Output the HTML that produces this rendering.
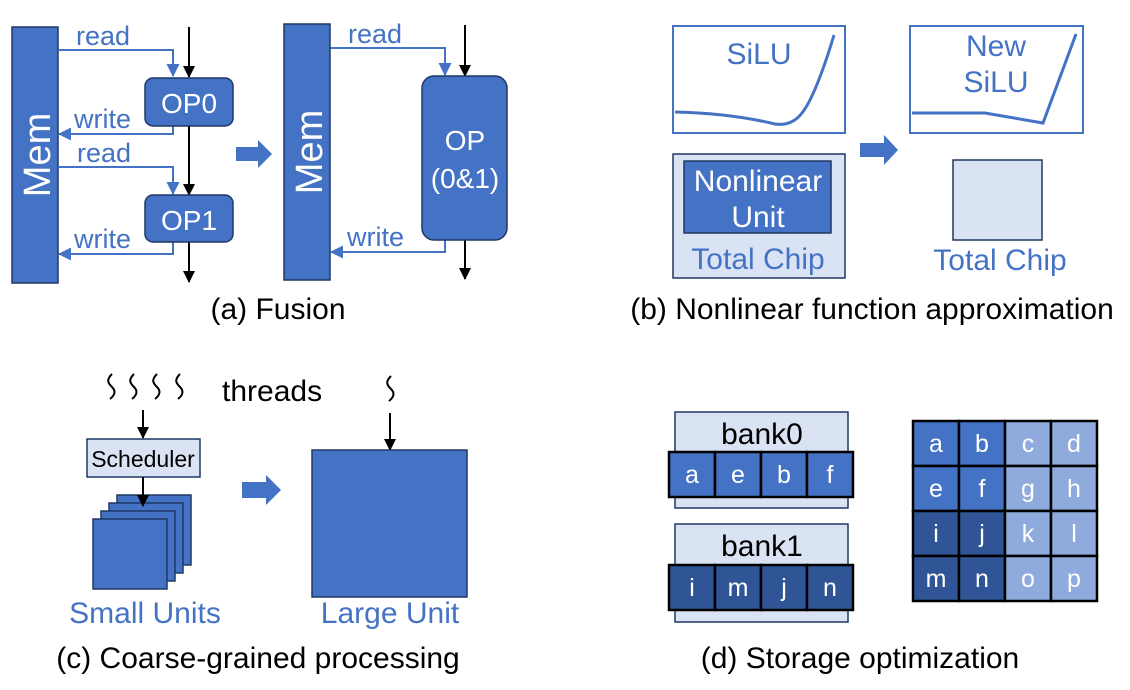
<!DOCTYPE html>
<html><head><style>body{margin:0;background:#fff}svg{display:block}text{font-family:"Liberation Sans",Arial,sans-serif}</style></head><body>
<svg width="1130" height="690" viewBox="0 0 1130 690" xmlns="http://www.w3.org/2000/svg">
<defs>
<marker id="ab" markerWidth="12" markerHeight="12" refX="11" refY="6" orient="auto" markerUnits="userSpaceOnUse"><path d="M0,0 L12,6 L0,12 z" fill="#000"/></marker>
<marker id="au" markerWidth="13" markerHeight="13" refX="12" refY="6.5" orient="auto" markerUnits="userSpaceOnUse"><path d="M0,0 L13,6.5 L0,13 z" fill="#4472c4"/></marker>
</defs>
<!-- (a) -->
<rect x="12" y="27" width="46" height="256" fill="#4472c4" stroke="#203864" stroke-width="1.5"/>
<text transform="translate(50,155) rotate(-90)" font-size="38" fill="#fff" text-anchor="middle">Mem</text>
<g fill="none" stroke="#4472c4" stroke-width="2">
<path d="M58,50 H173 V76" marker-end="url(#au)"/>
<path d="M173,126 V134 H59" marker-end="url(#au)"/>
<path d="M58,167 H173 V194" marker-end="url(#au)"/>
<path d="M173,242 V254 H59" marker-end="url(#au)"/>
<path d="M330,48 H445 V75" marker-end="url(#au)"/>
<path d="M445,240 V252 H331" marker-end="url(#au)"/>
</g>
<g fill="none" stroke="#000" stroke-width="2">
<path d="M189,27 V77" marker-end="url(#ab)"/>
<path d="M189,126 V195" marker-end="url(#ab)"/>
<path d="M189,242 V282" marker-end="url(#ab)"/>
<path d="M465,25 V76" marker-end="url(#ab)"/>
<path d="M465,240 V279" marker-end="url(#ab)"/>
</g>
<g font-size="27" fill="#4472c4">
<text x="76" y="45">read</text><text x="74" y="128">write</text>
<text x="77" y="162">read</text><text x="74" y="248">write</text>
<text x="348" y="43">read</text><text x="347" y="246">write</text>
</g>
<rect x="145" y="78" width="88" height="48" rx="8" fill="#4472c4" stroke="#203864" stroke-width="1.5"/>
<text x="189" y="113" font-size="28" fill="#fff" text-anchor="middle">OP0</text>
<rect x="145" y="195" width="88" height="47" rx="8" fill="#4472c4" stroke="#203864" stroke-width="1.5"/>
<text x="189" y="230" font-size="28" fill="#fff" text-anchor="middle">OP1</text>
<path d="M236,147 H258 V140 L272,154 L258,168 V161 H236 z" fill="#4472c4"/>
<rect x="284" y="24" width="46" height="256" fill="#4472c4" stroke="#203864" stroke-width="1.5"/>
<text transform="translate(322,152) rotate(-90)" font-size="38" fill="#fff" text-anchor="middle">Mem</text>
<rect x="422" y="76" width="85" height="164" rx="12" fill="#4472c4" stroke="#203864" stroke-width="1.5"/>
<text x="465" y="150" font-size="28" fill="#fff" text-anchor="middle">OP</text>
<text x="465" y="188" font-size="28" fill="#fff" text-anchor="middle">(0&amp;1)</text>
<text x="278" y="319" font-size="30" text-anchor="middle">(a) Fusion</text>
<!-- (b) -->
<rect x="673" y="26" width="172" height="107" fill="#fff" stroke="#4472c4" stroke-width="2"/>
<text x="759" y="64" font-size="30" fill="#4472c4" text-anchor="middle">SiLU</text>
<path d="M675,112 C720,113 750,118 775,124 C790,126 800,120 810,100 C820,80 828,55 834,35" fill="none" stroke="#4472c4" stroke-width="3"/>
<rect x="673" y="154" width="172" height="124" fill="#dae3f3" stroke="#203864" stroke-width="1.5"/>
<rect x="684" y="161" width="147" height="72" fill="#4472c4" stroke="#203864" stroke-width="1.5"/>
<text x="758" y="191" font-size="30" fill="#fff" text-anchor="middle">Nonlinear</text>
<text x="758" y="227" font-size="30" fill="#fff" text-anchor="middle">Unit</text>
<text x="758" y="269" font-size="30" fill="#4472c4" text-anchor="middle">Total Chip</text>
<path d="M860,143 H884 V135 L898,150 L884,165 V157 H860 z" fill="#4472c4"/>
<rect x="910" y="26" width="173" height="107" fill="#fff" stroke="#4472c4" stroke-width="2"/>
<text x="996" y="56" font-size="30" fill="#4472c4" text-anchor="middle">New</text>
<text x="996" y="92" font-size="30" fill="#4472c4" text-anchor="middle">SiLU</text>
<path d="M912,113 L985,113 L1043,123 L1076,34" fill="none" stroke="#4472c4" stroke-width="3"/>
<rect x="953" y="160" width="89" height="80" fill="#dae3f3" stroke="#203864" stroke-width="1.5"/>
<text x="1000" y="270" font-size="30" fill="#4472c4" text-anchor="middle">Total Chip</text>
<text x="872" y="319" font-size="30" text-anchor="middle">(b) Nonlinear function approximation</text>
<!-- (c) -->
<g fill="none" stroke="#000" stroke-width="2">
<path d="M112,374 c-6,6 -4,9 0,13 c4,4 3,8 -2,12"/>
<path d="M134,374 c-6,6 -4,9 0,13 c4,4 3,8 -2,12"/>
<path d="M157,374 c-6,6 -4,9 0,13 c4,4 3,8 -2,12"/>
<path d="M180,374 c-6,6 -4,9 0,13 c4,4 3,8 -2,12"/>
<path d="M391,376 c-6,6 -4,9 0,13 c4,4 3,8 -2,12"/>
<path d="M143,410 V438" marker-end="url(#ab)"/>
<path d="M143,477 V506" marker-end="url(#ab)"/>
<path d="M390,413 V450" marker-end="url(#ab)"/>
</g>
<text x="222" y="401" font-size="30">threads</text>
<rect x="87" y="439" width="113" height="38" fill="#dae3f3" stroke="#203864" stroke-width="1.5"/>
<text x="143" y="467" font-size="23" text-anchor="middle">Scheduler</text>
<g fill="#4472c4" stroke="#203864" stroke-width="1.5">
<rect x="117" y="495" width="74" height="70"/>
<rect x="109" y="503" width="74" height="70"/>
<rect x="101" y="511" width="74" height="70"/>
<rect x="93" y="519" width="74" height="70"/>
<rect x="312" y="450" width="155" height="147"/>
</g>
<path d="M143,477 V506" fill="none" stroke="#000" stroke-width="2" marker-end="url(#ab)"/>
<path d="M242,482 H266 V475 L281,490 L266,505 V498 H242 z" fill="#4472c4"/>
<text x="145" y="623" font-size="30" fill="#4472c4" text-anchor="middle">Small Units</text>
<text x="390" y="623" font-size="30" fill="#4472c4" text-anchor="middle">Large Unit</text>
<text x="258" y="668" font-size="30" text-anchor="middle">(c) Coarse-grained processing</text>
<!-- (d) -->
<rect x="675" y="412" width="173" height="96" fill="#dae3f3" stroke="#203864" stroke-width="1.5"/>
<text x="762" y="444" font-size="30" text-anchor="middle">bank0</text>
<rect x="675" y="524" width="173" height="98" fill="#dae3f3" stroke="#203864" stroke-width="1.5"/>
<text x="762" y="556" font-size="30" text-anchor="middle">bank1</text>
<g stroke="#000" stroke-width="2.5">
<rect x="669" y="452" width="46" height="45" fill="#4472c4"/><rect x="715" y="452" width="46" height="45" fill="#4472c4"/><rect x="761" y="452" width="46" height="45" fill="#4472c4"/><rect x="807" y="452" width="46" height="45" fill="#4472c4"/>
<rect x="669" y="565" width="46" height="45" fill="#2f5597"/><rect x="715" y="565" width="46" height="45" fill="#2f5597"/><rect x="761" y="565" width="46" height="45" fill="#2f5597"/><rect x="807" y="565" width="46" height="45" fill="#2f5597"/>
<rect x="913" y="421" width="46" height="45" fill="#4472c4"/><rect x="959" y="421" width="46" height="45" fill="#4472c4"/><rect x="1005" y="421" width="46" height="45" fill="#8faadc"/><rect x="1051" y="421" width="46" height="45" fill="#8faadc"/>
<rect x="913" y="466" width="46" height="45" fill="#4472c4"/><rect x="959" y="466" width="46" height="45" fill="#4472c4"/><rect x="1005" y="466" width="46" height="45" fill="#8faadc"/><rect x="1051" y="466" width="46" height="45" fill="#8faadc"/>
<rect x="913" y="511" width="46" height="45" fill="#2f5597"/><rect x="959" y="511" width="46" height="45" fill="#2f5597"/><rect x="1005" y="511" width="46" height="45" fill="#8faadc"/><rect x="1051" y="511" width="46" height="45" fill="#8faadc"/>
<rect x="913" y="556" width="46" height="45" fill="#2f5597"/><rect x="959" y="556" width="46" height="45" fill="#2f5597"/><rect x="1005" y="556" width="46" height="45" fill="#8faadc"/><rect x="1051" y="556" width="46" height="45" fill="#8faadc"/>
</g>
<g font-size="25" fill="#fff" text-anchor="middle">
<text x="692" y="483">a</text><text x="738" y="483">e</text><text x="784" y="483">b</text><text x="830" y="483">f</text>
<text x="692" y="596">i</text><text x="738" y="596">m</text><text x="784" y="596">j</text><text x="830" y="596">n</text>
<text x="936" y="452">a</text><text x="982" y="452">b</text><text x="1028" y="452">c</text><text x="1074" y="452">d</text>
<text x="936" y="497">e</text><text x="982" y="497">f</text><text x="1028" y="497">g</text><text x="1074" y="497">h</text>
<text x="936" y="542">i</text><text x="982" y="542">j</text><text x="1028" y="542">k</text><text x="1074" y="542">l</text>
<text x="936" y="587">m</text><text x="982" y="587">n</text><text x="1028" y="587">o</text><text x="1074" y="587">p</text>
</g>
<text x="860" y="668" font-size="30" text-anchor="middle">(d) Storage optimization</text>
</svg>
</body></html>
